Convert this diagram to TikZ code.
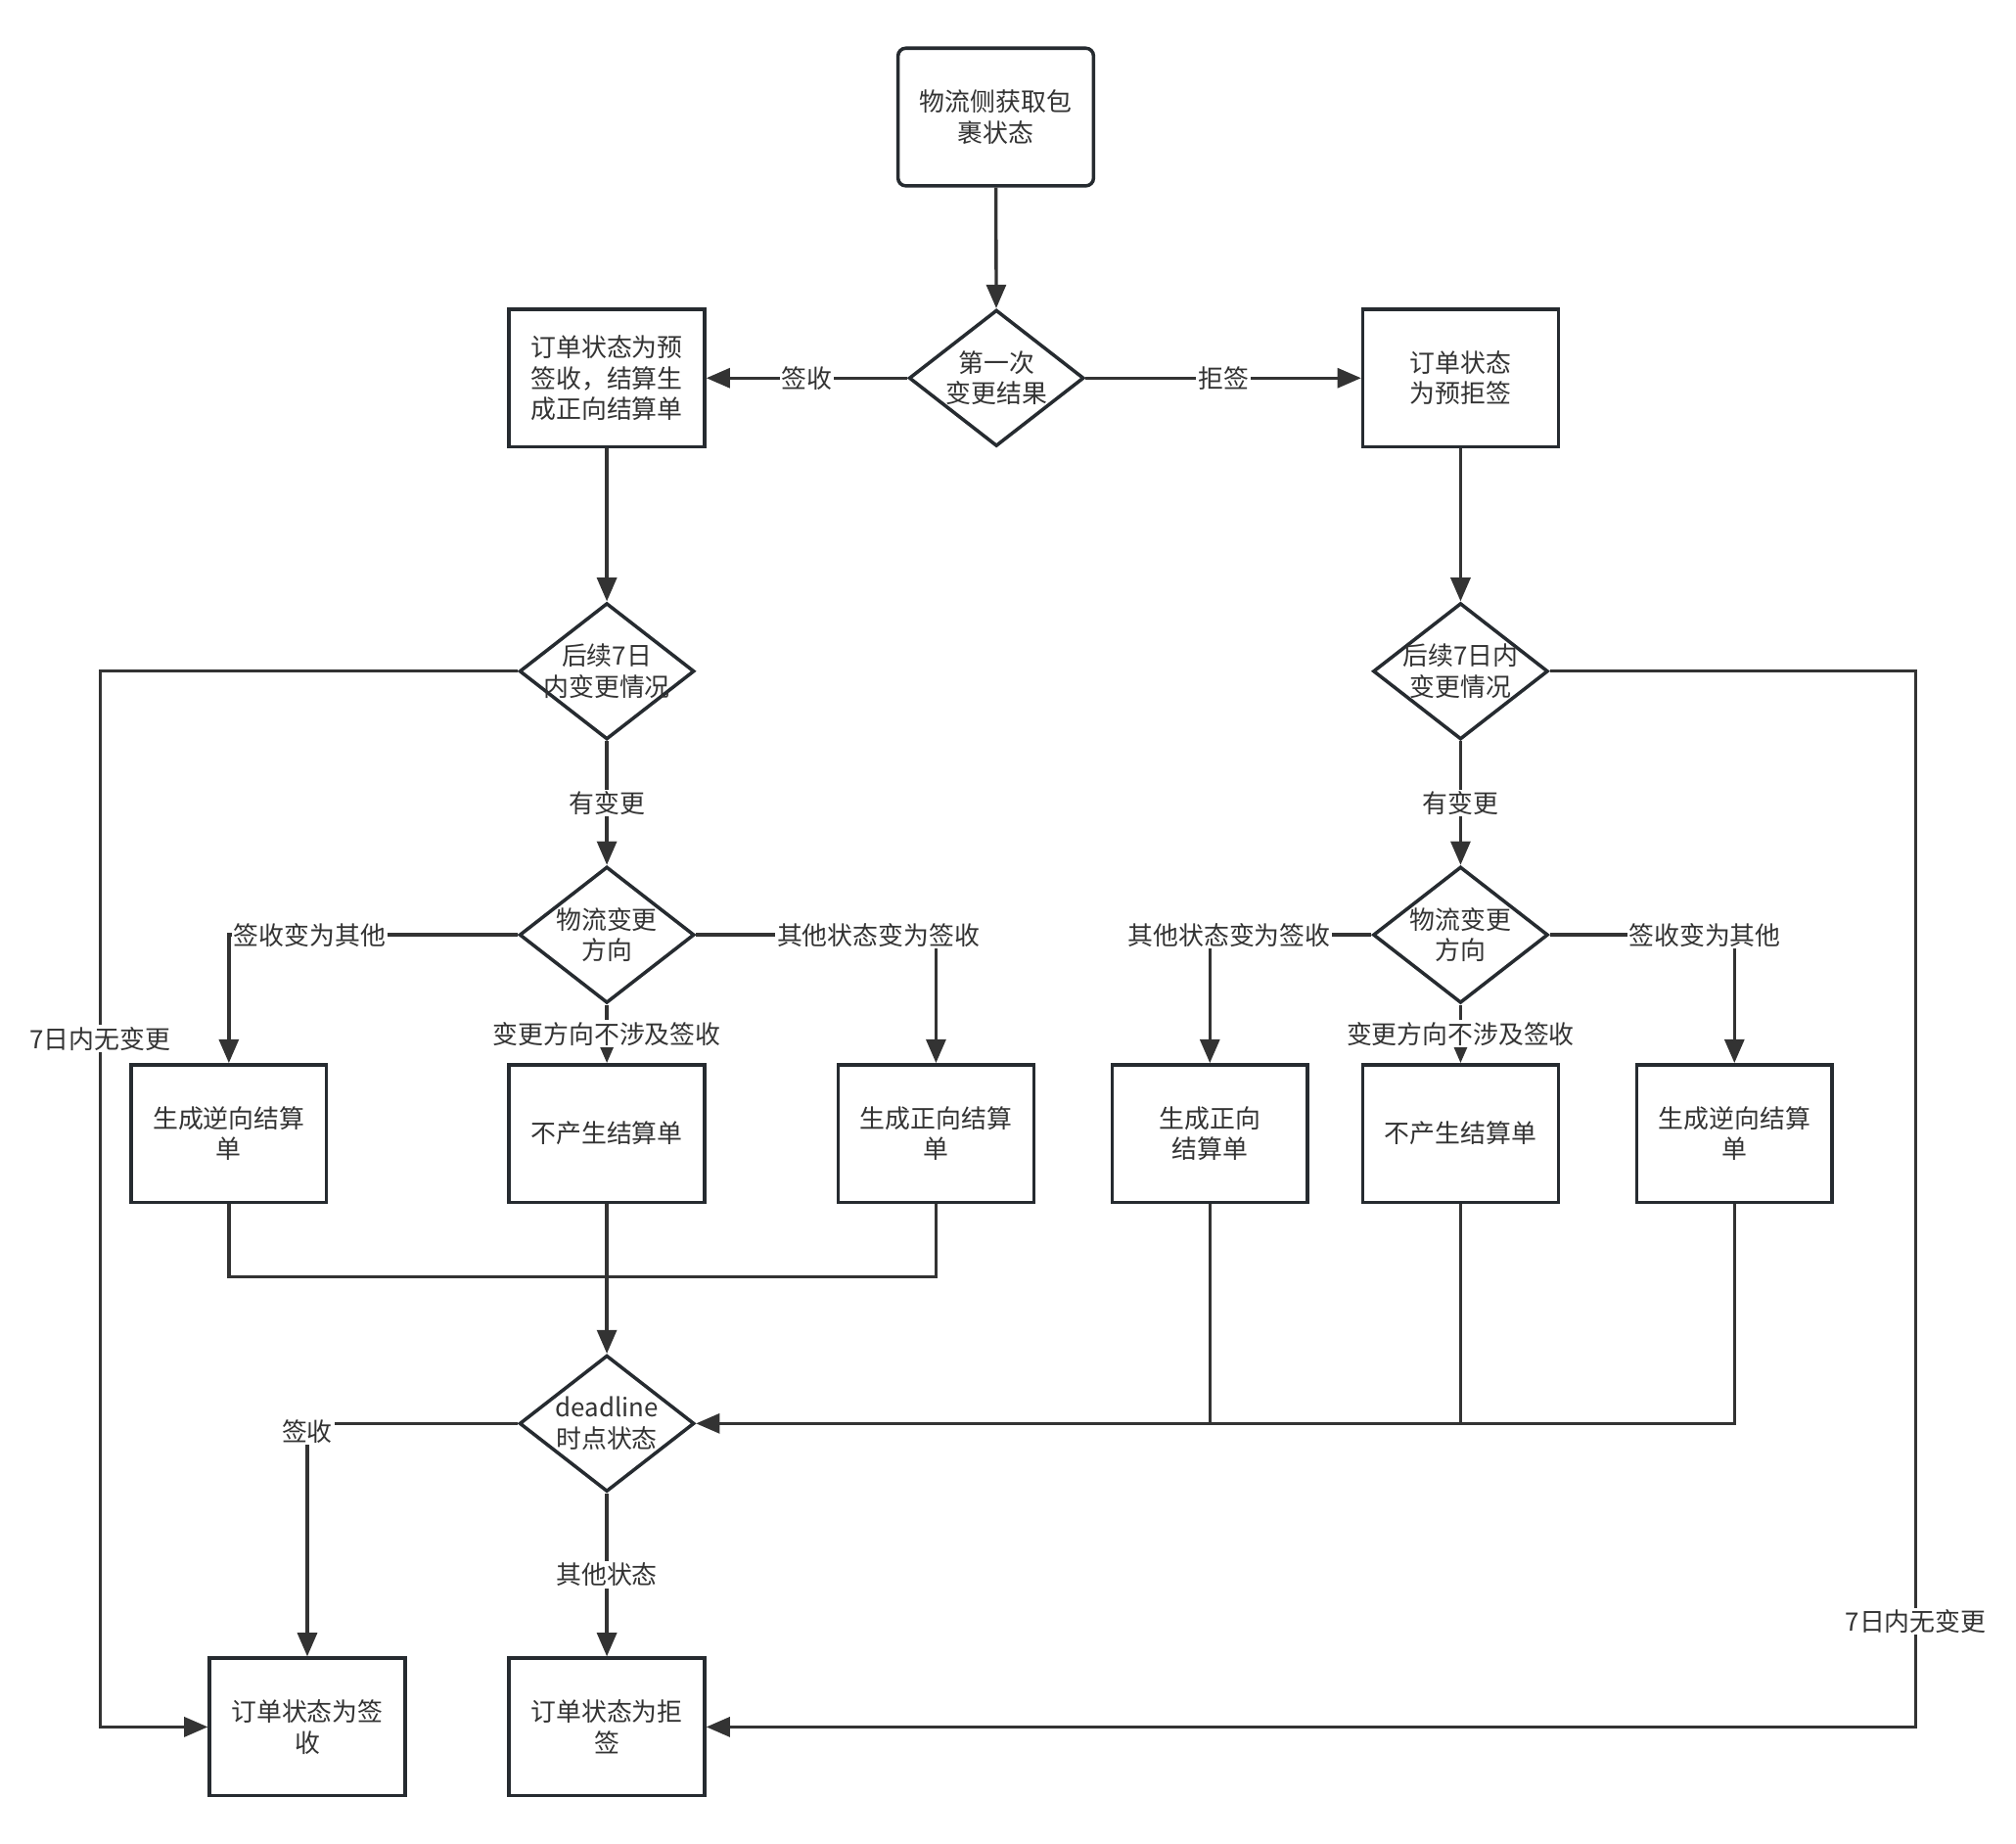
\documentclass[tikz,border=0pt]{standalone}
\usepackage{fontspec}
\newfontfamily\cjk{Noto Sans CJK SC}
\usetikzlibrary{shapes.geometric, arrows.meta}
\definecolor{linegray}{HTML}{333333}
\definecolor{boxgray}{HTML}{262B30}
\tikzset{
  box/.style={draw=boxgray, line width=1.9pt, rectangle, minimum width=3.8cm, minimum height=2.675cm, inner sep=0pt, align=center},
  decide/.style={draw=boxgray, line width=1.9pt, diamond, minimum width=3.4cm, minimum height=2.65cm, inner sep=-1cm, align=center},
  lbl/.style={fill=white, inner sep=1pt},
  flow/.style={draw=linegray, line width=1.8pt},
}

\begin{document}
\begin{tikzpicture}[x=0.025cm, y=-0.025cm, >={Triangle[length=0.46cm, width=0.38cm]},
    font=\cjk\fontsize{14}{17}\selectfont, text=linegray]
  \fill[white] (0,0) rectangle (1568,1434);
  \useasboundingbox (0,0) rectangle (1568,1434);
  % first change
  \node[box, rounded corners=0.15cm] (start) at (774.5,91) {物流侧获取包\\裹状态};
  \node[decide] (first) at (775,294) {第一次\\变更结果};
  \node[box] (presign) at (472,294) {订单状态为预\\签收，结算生\\成正向结算单};
  \node[box] (prereject) at (1136,294) {订单状态\\为预拒签};
  % changes within 7 days
  \node[decide] (chkl) at (472,522) {后续7日\\内变更情况};
  \node[decide] (chkr) at (1136,522) {后续7日内\\变更情况};
  \node[decide] (dirl) at (472,727) {物流变更\\方向};
  \node[decide] (dirr) at (1136,727) {物流变更\\方向};
  \node[box] (revl) at (178,881.5) {生成逆向结算\\单};
  \node[box] (nonel) at (472,881.5) {不产生结算单};
  \node[box] (fwdl) at (728,881.5) {生成正向结算\\单};
  \node[box] (fwdr) at (941,881.5) {生成正向\\结算单};
  \node[box] (noner) at (1136,881.5) {不产生结算单};
  \node[box] (revr) at (1349,881.5) {生成逆向结算\\单};
  % deadline
  \node[decide] (dl) at (472,1107) {deadline\\时点状态};
  \node[box] (signed) at (239,1343) {订单状态为签\\收};
  \node[box] (rejected) at (472,1343) {订单状态为拒\\签};
  \coordinate (mrg) at (472,993);
  \coordinate (lloop) at (78,522);
  \coordinate (rloop) at (1490,522);

  \draw[flow,->] (start) -- (first);
  \draw[flow,->] (first.west) -- node[lbl] {签收} (presign.east);
  \draw[flow,->] (first.east) -- node[lbl] {拒签} (prereject.west);
  \draw[flow,->] (presign) -- (chkl);
  \draw[flow,->] (prereject) -- (chkr);
  \draw[flow,->] (chkl) -- node[lbl] {有变更} (dirl);
  \draw[flow,->] (chkr) -- node[lbl] {有变更} (dirr);
  % left branch
  \draw[flow,->] (dirl.west) -| node[lbl, pos=0.36] {签收变为其他} (revl.north);
  \draw[flow,->] (dirl.east) -| node[lbl, pos=0.38] {其他状态变为签收} (fwdl.north);
  \draw[flow,->] (dirl) -- node[lbl] {变更方向不涉及签收} (nonel);
  % right branch
  \draw[flow,->] (dirr.west) -| node[lbl, pos=0.44] {其他状态变为签收} (fwdr.north);
  \draw[flow,->] (dirr.east) -| node[lbl, pos=0.42] {签收变为其他} (revr.north);
  \draw[flow,->] (dirr) -- node[lbl] {变更方向不涉及签收} (noner);
  % join to deadline
  \draw[flow] (revl.south) |- (mrg) -| (fwdl.south);
  \draw[flow,->] (nonel) -- (dl);
  \draw[flow] (revr.south) |- (fwdr.south |- dl.east);
  \draw[flow] (noner.south) -- (noner.south |- dl.east);
  \draw[flow,->] (fwdr.south) |- (dl.east);
  \draw[flow,->] (dl.west) -| node[lbl, pos=0.5, yshift=-0.15cm] {签收} (signed.north);
  \draw[flow,->] (dl) -- node[lbl] {其他状态} (rejected);
  % no change within 7 days
  \draw[flow,->] (chkl.west) -- (lloop) |- node[lbl, pos=0.174] {7日内无变更} (signed.west);
  \draw[flow,->] (chkr.east) -- (rloop) |- node[lbl, pos=0.45] {7日内无变更} (rejected.east);
\end{tikzpicture}
\end{document}
